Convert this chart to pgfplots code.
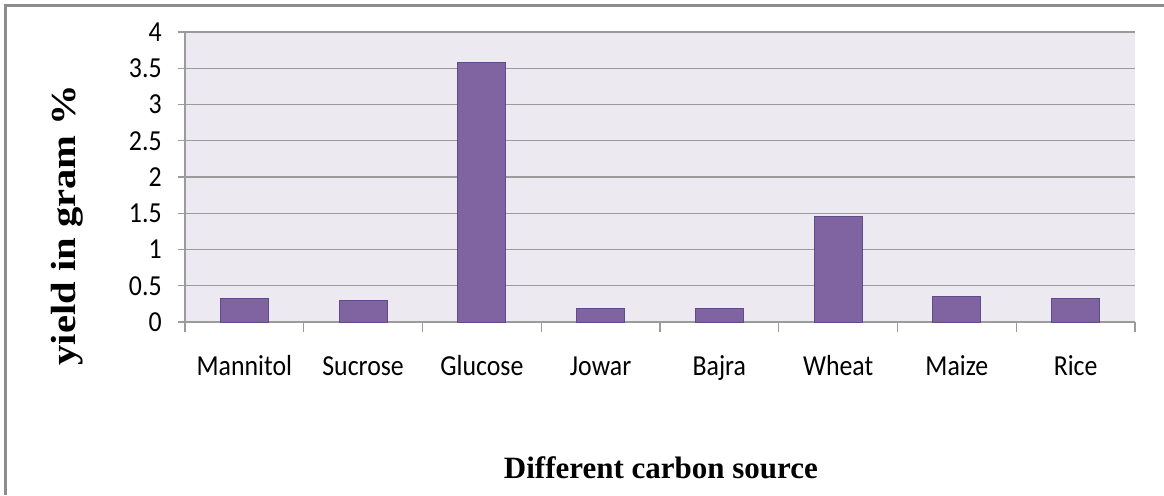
\documentclass[border=0pt]{standalone}
\usepackage{fontspec}
\setmainfont{Carlito}[FakeStretch=0.89]
\newfontfamily\tnr{Liberation Serif}
\usepackage{graphicx}
\usepackage{pgfplots}
\pgfplotsset{compat=1.18}
\definecolor{barfill}{RGB}{128,100,162}
\definecolor{baredge}{RGB}{95,75,139}
\definecolor{plotbg}{RGB}{236,234,240}
\definecolor{gridc}{RGB}{155,155,155}
\definecolor{framec}{RGB}{140,140,140}
\begin{document}
\begin{tikzpicture}
\useasboundingbox (0pt,0pt) rectangle (582pt,247.5pt);
\draw[framec, line width=1.25pt] (2.65pt,0pt) -- (2.65pt,244.85pt) -- (582pt,244.85pt);
\begin{axis}[
  at={(92.5pt,86.5pt)}, anchor=south west,
  scale only axis, width=475pt, height=145pt,
  ybar, bar width=24pt,
  xmin=-0.5, xmax=7.5, ymin=0, ymax=4,
  axis lines*=left,
  axis line style={gridc, line width=0.6pt},
  axis background/.style={fill=plotbg},
  ymajorgrids, grid style={gridc, line width=0.7pt},
  ytick={0,0.5,...,4},
  yticklabels={0,0.5,1,1.5,2,2.5,3,3.5,4},
  xtick={0,...,7},
  xticklabels={Mannitol,Sucrose,Glucose,Jowar,Bajra,Wheat,Maize,Rice},
  minor xtick={-0.5,0.5,...,7.5},
  tick align=outside,
  major tick length=3.5pt, minor tick length=5pt,
  major x tick style={draw=none},
  minor x tick style={gridc, line width=0.6pt},
  ytick style={gridc, line width=0.6pt},
  /pgf/number format/assume math mode=true,
  tick label style={font=\fontsize{14.5}{16}\selectfont, text=black},
  yticklabel style={inner sep=0pt, xshift=-8pt},
  xticklabel style={inner sep=0pt, anchor=base, yshift=-23pt},
  xlabel={\tnr\bfseries\fontsize{15.5}{18}\selectfont Different carbon source},
  xlabel style={at={(axis description cs:0.501,-0.538)}, anchor=base},
  ylabel={\scalebox{1.16}[1]{\tnr\bfseries\fontsize{17.5}{20}\selectfont yield in gram \%}},
  ylabel style={at={(axis description cs:-0.1242,0.3345)}, anchor=center},
]
\addplot[fill=barfill, draw=baredge, line width=0.5pt] coordinates {(0,0.32) (1,0.29) (2,3.58) (3,0.18) (4,0.18) (5,1.46) (6,0.35) (7,0.32)};
\end{axis}
\end{tikzpicture}
\end{document}
